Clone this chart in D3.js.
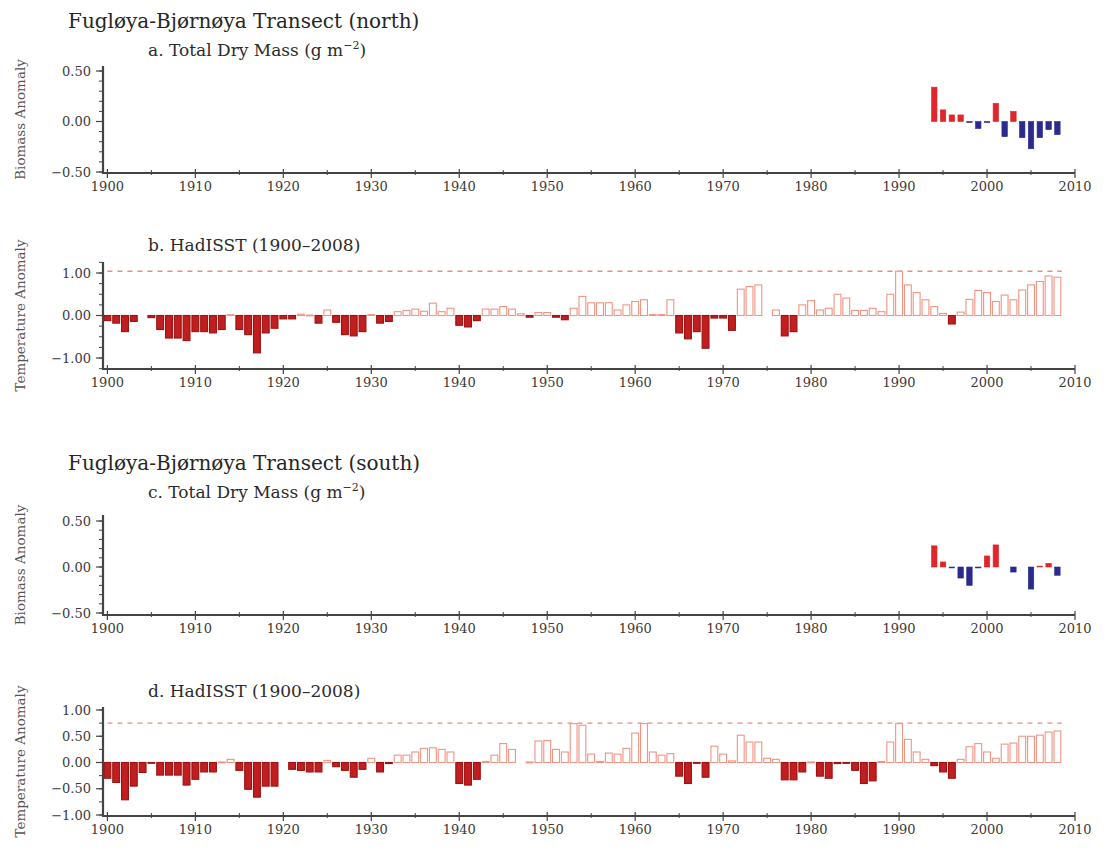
<!DOCTYPE html>
<html lang="en">
<head>
  <meta charset="UTF-8">
  <title>Fugløya-Bjørnøya Transect – biomass and HadISST anomalies</title>
  <script src="https://cdn.jsdelivr.net/npm/d3@7"></script>
  <style>
    html, body { margin: 0; padding: 0; background: #fff; }
    svg { display: block; }
  </style>
</head>
<body>
  <script>
    // ------------- Data -------------
    const years = d3.range(1900, 2009);
    const bioYears = d3.range(1994, 2009);
    const decadeTicks = d3.range(1900, 2011, 10);
    const halfDecadeTicks = d3.range(1905, 2010, 10);

    // a. Total dry mass anomaly, north (1994–2008)
    const biomassNorth = [0.34, 0.115, 0.065, 0.065, -0.01, -0.07, -0.01, 0.18,
                          -0.15, 0.10, -0.16, -0.27, -0.16, -0.08, -0.13];
    // c. Total dry mass anomaly, south (1994–2008)
    const biomassSouth = [0.23, 0.055, -0.01, -0.12, -0.20, -0.01, 0.12, 0.24,
                          0.00, -0.055, 0.00, -0.24, 0.01, 0.04, -0.09];

    // b. HadISST anomaly, north (1900–2008)
    const tempNorth = [
      -0.12, -0.18, -0.38, -0.14, 0.00, -0.05, -0.33, -0.53, -0.53, -0.59,   // 1900s
      -0.38, -0.38, -0.41, -0.33, 0.02, -0.33, -0.45, -0.88, -0.41, -0.30,   // 1910s
      -0.08, -0.08, 0.03, 0.01, -0.18, 0.13, -0.16, -0.45, -0.48, -0.38,     // 1920s
      0.02, -0.18, -0.14, 0.09, 0.12, 0.15, 0.10, 0.29, 0.09, 0.17,          // 1930s
      -0.23, -0.27, -0.12, 0.15, 0.15, 0.21, 0.15, 0.04, -0.04, 0.07,        // 1940s
      0.07, -0.04, -0.10, 0.17, 0.45, 0.30, 0.30, 0.30, 0.13, 0.25,          // 1950s
      0.33, 0.37, 0.02, 0.02, 0.37, -0.41, -0.55, -0.38, -0.77, -0.06,       // 1960s
      -0.06, -0.35, 0.62, 0.68, 0.72, 0.00, 0.13, -0.48, -0.38, 0.25,        // 1970s
      0.35, 0.13, 0.17, 0.50, 0.41, 0.12, 0.12, 0.17, 0.09, 0.50,            // 1980s
      1.04, 0.72, 0.54, 0.37, 0.21, 0.05, -0.20, 0.08, 0.38, 0.59,           // 1990s
      0.54, 0.33, 0.48, 0.37, 0.60, 0.72, 0.80, 0.93, 0.90                   // 2000s
    ];
    // d. HadISST anomaly, south (1900–2008)
    const tempSouth = [
      -0.30, -0.38, -0.71, -0.45, -0.19, -0.01, -0.24, -0.24, -0.24, -0.43,
      -0.32, -0.18, -0.18, 0.01, 0.06, -0.15, -0.51, -0.66, -0.45, -0.45,
      0.00, -0.13, -0.15, -0.18, -0.18, 0.04, -0.08, -0.15, -0.28, -0.13,
      0.08, -0.18, -0.02, 0.14, 0.14, 0.20, 0.27, 0.28, 0.25, 0.20,
      -0.40, -0.43, -0.32, 0.02, 0.14, 0.36, 0.25, 0.00, 0.01, 0.41,
      0.42, 0.25, 0.20, 0.74, 0.71, 0.16, 0.02, 0.18, 0.16, 0.27,
      0.56, 0.74, 0.20, 0.14, 0.17, -0.26, -0.40, -0.01, -0.28, 0.31,
      0.16, 0.03, 0.52, 0.39, 0.39, 0.08, 0.06, -0.33, -0.33, -0.18,
      0.01, -0.26, -0.30, -0.02, -0.01, -0.15, -0.40, -0.35, 0.02, 0.39,
      0.74, 0.44, 0.20, 0.06, -0.06, -0.18, -0.30, 0.06, 0.30, 0.36,
      0.20, 0.08, 0.35, 0.37, 0.50, 0.50, 0.52, 0.58, 0.60
    ];

    // reference (dashed) lines
    const refNorth = 1.04;
    const refSouth = 0.75;

    // ------------- Setup -------------
    const width = 1111, height = 854;
    const serif = "DejaVu Serif, Liberation Serif, serif";
    const svg = d3.select("body").append("svg")
      .attr("width", width)
      .attr("height", height)
      .style("font-family", serif);

    const x = d3.scaleLinear().domain([1899.5, 2010]).range([103, 1075]);
    const step = x(1901) - x(1900);
    const fmt = d3.format(".2f");

    const axisColor = "#444";
    const col = {
      red: "#e0262a", blue: "#2b2b8f",
      negFill: "#c21d1f", negStroke: "#9a1212",
      posStroke: "#f09483", dash: "#f08a7a"
    };

    // ------------- Headings -------------
    function heading(txt, y) {
      svg.append("text").attr("x", 68).attr("y", y)
        .attr("font-size", 20).attr("fill", "#262626").text(txt);
    }
    function subTitle(txt, y, sup) {
      const t = svg.append("text").attr("x", 148).attr("y", y)
        .attr("font-size", 17).attr("fill", "#2b2b2b");
      t.append("tspan").text(txt);
      if (sup) {
        t.append("tspan").attr("dy", -7).attr("font-size", 11).text(sup);
        t.append("tspan").attr("dy", 7).text(")");
      }
    }

    heading("Fugløya-Bjørnøya Transect (north)", 28);
    subTitle("a. Total Dry Mass (g m", 56, "−2");
    subTitle("b. HadISST (1900–2008)", 251);
    heading("Fugløya-Bjørnøya Transect (south)", 470);
    subTitle("c. Total Dry Mass (g m", 498, "−2");
    subTitle("d. HadISST (1900–2008)", 697);

    // ------------- Panel drawing -------------
    function drawPanel(p) {
      const y = d3.scaleLinear().domain(p.domain).range(p.range);
      const g = svg.append("g");

      // y-axis title
      g.append("text")
        .attr("transform", `translate(25,${(p.top + p.bottom) / 2}) rotate(-90)`)
        .attr("text-anchor", "middle")
        .attr("font-size", 13.5)
        .attr("fill", "#555")
        .text(p.yTitle);

      // y minor ticks
      g.selectAll(".ytm").data(p.minorTicks).join("line")
        .attr("x1", 99).attr("x2", 103)
        .attr("y1", d => y(d)).attr("y2", d => y(d))
        .attr("stroke", axisColor).attr("stroke-width", 1);
      // y labelled ticks
      g.selectAll(".ytl").data(p.labelTicks).join("line")
        .attr("x1", 96).attr("x2", 103)
        .attr("y1", d => y(d)).attr("y2", d => y(d))
        .attr("stroke", axisColor).attr("stroke-width", 1.2);
      g.selectAll(".ylab").data(p.labelTicks).join("text")
        .attr("x", 91).attr("y", d => y(d) + 4.5)
        .attr("text-anchor", "end")
        .attr("font-size", 13)
        .attr("fill", "#3a3a3a")
        .text(d => fmt(d));

      // x ticks
      g.selectAll(".xtM").data(decadeTicks).join("line")
        .attr("x1", d => x(d)).attr("x2", d => x(d))
        .attr("y1", p.bottom - 4).attr("y2", p.bottom + 5)
        .attr("stroke", axisColor).attr("stroke-width", 1.2);
      g.selectAll(".xtm").data(halfDecadeTicks).join("line")
        .attr("x1", d => x(d)).attr("x2", d => x(d))
        .attr("y1", p.bottom - 3).attr("y2", p.bottom + 2)
        .attr("stroke", axisColor).attr("stroke-width", 1);
      g.selectAll(".xlab").data(decadeTicks).join("text")
        .attr("x", d => x(d)).attr("y", p.bottom + 18)
        .attr("text-anchor", "middle")
        .attr("font-size", 13)
        .attr("fill", "#3a3a3a")
        .text(d => d);

      // dashed reference line
      if (p.ref !== undefined) {
        g.append("line")
          .attr("x1", x(1900)).attr("x2", x(2008.5))
          .attr("y1", y(p.ref)).attr("y2", y(p.ref))
          .attr("stroke", col.dash).attr("stroke-width", 1.4)
          .attr("stroke-dasharray", "5,5");
      }

      // bars
      const bw = step * p.barFrac;
      const data = p.values.map((v, i) => ({ year: p.years[i], v }));
      g.selectAll(".bar").data(data.filter(d => d.v !== 0)).join("rect")
        .attr("x", d => x(d.year) - bw / 2)
        .attr("width", bw)
        .attr("y", d => y(Math.max(0, d.v)))
        .attr("height", d => Math.max(0.8, Math.abs(y(d.v) - y(0))))
        .attr("fill", d => p.fill(d.v))
        .attr("stroke", d => p.stroke(d.v))
        .attr("stroke-width", p.strokeWidth);

      // axis lines
      g.append("line")
        .attr("x1", 103).attr("x2", 103)
        .attr("y1", p.top).attr("y2", p.bottom + 1)
        .attr("stroke", axisColor).attr("stroke-width", 2.2);
      g.append("line")
        .attr("x1", 102).attr("x2", x(2010))
        .attr("y1", p.bottom).attr("y2", p.bottom)
        .attr("stroke", axisColor).attr("stroke-width", 2.2);
    }

    const bioFill = v => v >= 0 ? col.red : col.blue;
    const tempFill = v => v >= 0 ? "#fff" : col.negFill;
    const tempStroke = v => v >= 0 ? col.posStroke : col.negStroke;

    drawPanel({
      years: bioYears, values: biomassNorth, yTitle: "Biomass Anomaly",
      domain: [-0.5, 0.5], range: [172, 71], top: 66, bottom: 173,
      labelTicks: [-0.5, 0, 0.5], minorTicks: d3.range(-5, 6).map(d => d / 10),
      barFrac: 0.62, fill: bioFill, stroke: bioFill, strokeWidth: 0.6
    });
    drawPanel({
      years: years, values: tempNorth, yTitle: "Temperature Anomaly",
      domain: [-1, 1], range: [358, 273], top: 262, bottom: 369,
      labelTicks: [-1, 0, 1], minorTicks: d3.range(-5, 6).map(d => d / 4),
      ref: refNorth,
      barFrac: 0.78, fill: tempFill, stroke: tempStroke, strokeWidth: 1.1
    });
    drawPanel({
      years: bioYears, values: biomassSouth, yTitle: "Biomass Anomaly",
      domain: [-0.5, 0.5], range: [613, 521], top: 515, bottom: 615,
      labelTicks: [-0.5, 0, 0.5], minorTicks: d3.range(-5, 6).map(d => d / 10),
      barFrac: 0.62, fill: bioFill, stroke: bioFill, strokeWidth: 0.6
    });
    drawPanel({
      years: years, values: tempSouth, yTitle: "Temperature Anomaly",
      domain: [-1, 1], range: [815, 710], top: 707, bottom: 816,
      labelTicks: [-1, -0.5, 0, 0.5, 1], minorTicks: d3.range(-4, 5).map(d => d / 4),
      ref: refSouth,
      barFrac: 0.78, fill: tempFill, stroke: tempStroke, strokeWidth: 1.1
    });
  </script>
</body>
</html>
